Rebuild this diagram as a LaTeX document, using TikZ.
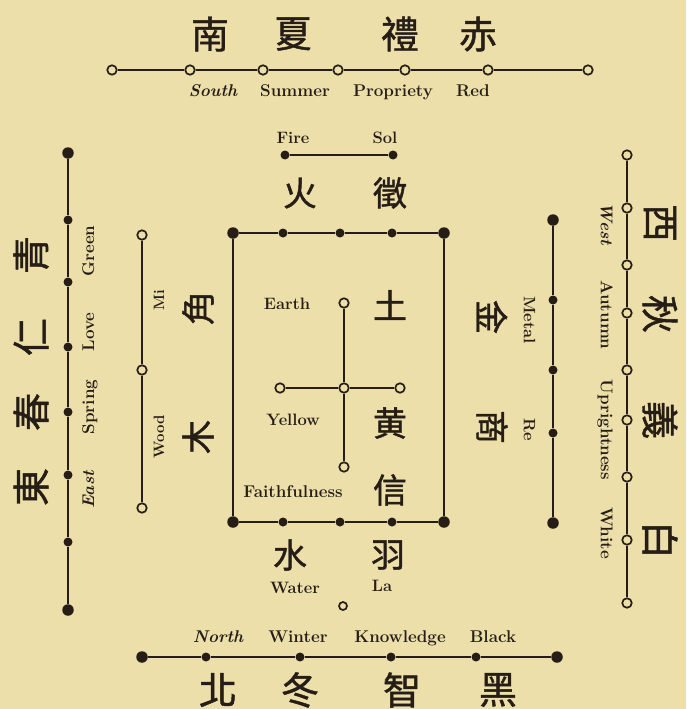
\documentclass[tikz,border=0pt]{standalone}
\usepackage{fontspec}
\newfontfamily\cjk{Noto Sans CJK TC}[FakeBold=1.2]
\definecolor{ink}{RGB}{38,30,22}
\definecolor{paper}{RGB}{236,223,170}
\tikzset{
 fd/.style={circle,fill=ink,inner sep=0pt,minimum size=9pt},
 bd/.style={circle,fill=ink,inner sep=0pt,minimum size=11.5pt},
 od/.style={circle,draw=ink,fill=paper,line width=1.7pt,inner sep=0pt,minimum size=9.5pt},
 ln/.style={draw=ink,line width=2.2pt},
 hz/.style={font=\cjk\fontsize{38}{38}\selectfont,text=ink,inner sep=0pt},
 hzs/.style={font=\cjk\fontsize{34}{34}\selectfont,text=ink,inner sep=0pt},
 lb/.style={font=\fontsize{17}{17}\selectfont\bfseries,text=ink,inner sep=0pt,anchor=base},
 lbi/.style={font=\fontsize{17}{17}\selectfont\bfseries\itshape,text=ink,inner sep=0pt,anchor=base},
 lbs/.style={font=\fontsize{16.5}{16.5}\selectfont\bfseries,text=ink,inner sep=0pt,anchor=base},
 lbt/.style={font=\fontsize{15}{15}\selectfont\bfseries,text=ink,inner sep=0pt,anchor=base},
 lft/.style={rotate=90,anchor=mid},
 rgt/.style={rotate=-90,anchor=mid}
}
\begin{document}
\begin{tikzpicture}[x=1pt,y=-1pt]
\fill[paper] (0,0) rectangle (686,709);
\useasboundingbox (0,0) rectangle (686,709);
% ---------- top (South) ----------
\foreach \x [count=\i from 0] in {112,190,263,338,405,488,588} \node[od] (t\i) at (\x,70) {};
\draw[ln] (t0)--(t1)--(t2)--(t3)--(t4)--(t5)--(t6);
\node[hz] (nan) at (210,34) {南};
\node[hz] (xia) at (293,34) {夏};
\node[hz] (li) at (400,34) {禮};
\node[hz] (chi) at (478,34) {赤};
\node[lbi] (south) at (213,96) {South};
\node[lb] (summer) at (295,96) {Summer};
\node[lb] (propriety) at (393,96) {Propriety};
\node[lb] (red) at (473,96) {Red};
% ---------- Fire / Sol ----------
\node[fd] (f0) at (285,155) {};
\node[fd] (f1) at (393,155) {};
\draw[ln] (f0)--(f1);
\node[lbs] (fire) at (293,143) {Fire};
\node[lbs] (sol) at (385,143) {Sol};
\node[hzs] (huo) at (300,193) {火};
\node[hzs] (zhi) at (390,193) {徵};
% ---------- box ----------
\node[bd] (bt0) at (233,233) {};
\node[fd] (bt1) at (283,233) {};
\node[fd] (bt2) at (340,233) {};
\node[fd] (bt3) at (392,233) {};
\node[bd] (bt4) at (444,233) {};
\node[bd] (bb0) at (233,522) {};
\node[fd] (bb1) at (283,522) {};
\node[fd] (bb2) at (340,522) {};
\node[fd] (bb3) at (392,522) {};
\node[bd] (bb4) at (444,522) {};
\draw[ln] (bt0)--(bt1)--(bt2)--(bt3)--(bt4)--(bb4)--(bb3)--(bb2)--(bb1)--(bb0)--(bt0);
% ---------- cross ----------
\node[od] (e1) at (344,303) {};
\node[od] (e2) at (344,467) {};
\node[od] (e3) at (280,388) {};
\node[od] (e4) at (400,388) {};
\node[od] (ec) at (344,388) {};
\draw[ln] (e1)--(ec)--(e2);
\draw[ln] (e3)--(ec)--(e4);
\node[lbs] (earth) at (287,309) {Earth};
\node[hzs] (tu) at (390,305) {土};
\node[lbs] (yellow) at (293,425) {Yellow};
\node[hzs] (huang) at (390,423) {黄};
\node[lb] (faith) at (293,497) {Faithfulness};
\node[hzs] (xin) at (390,490) {信};
% ---------- left outer (East) ----------
\node[bd] (l0) at (68,153) {};
\foreach \y [count=\i] in {220,282,347,412,475,542} \node[fd] (l\i) at (68,\y) {};
\node[bd] (l7) at (68,610) {};
\draw[ln] (l0)--(l1)--(l2)--(l3)--(l4)--(l5)--(l6)--(l7);
\node[hz,rotate=90] (qing) at (31,255) {青};
\node[hz,rotate=90] (ren) at (31,337) {仁};
\node[hz,rotate=90] (chun) at (31,412) {春};
\node[hz,rotate=90] (dong) at (31,487) {東};
\node[lb,lft] (green) at (92,251) {Green};
\node[lb,lft] (love) at (92,332) {Love};
\node[lb,lft] (spring) at (92,407) {Spring};
\node[lbi,lft] (east) at (92,490) {East};
% ---------- left inner (Wood) ----------
\node[od] (w0) at (142,235) {};
\node[od] (w1) at (142,370) {};
\node[od] (w2) at (142,508) {};
\draw[ln] (w0)--(w1)--(w2);
\node[lbt,lft] (mi) at (162,300) {Mi};
\node[hzs,rotate=90] (jiao) at (198,308) {角};
\node[lbt,lft] (wood) at (162,437) {Wood};
\node[hzs,rotate=90] (mu) at (198,437) {木};
% ---------- right inner (Metal) ----------
\node[bd] (m0) at (553,220) {};
\node[fd] (m1) at (553,300) {};
\node[fd] (m2) at (553,370) {};
\node[fd] (m3) at (553,433) {};
\node[bd] (m4) at (553,523) {};
\draw[ln] (m0)--(m1)--(m2)--(m3)--(m4);
\node[lbs,rgt] (metal) at (526,320) {Metal};
\node[lbs,rgt] (re) at (526,430) {Re};
\node[hzs,rotate=-90] (jin) at (492,317) {金};
\node[hzs,rotate=-90] (shang) at (492,427) {商};
% ---------- right outer (West) ----------
\foreach \y [count=\i from 0] in {155,208,265,313,370,420,477,540,603} \node[od] (r\i) at (627,\y) {};
\draw[ln] (r0)--(r1)--(r2)--(r3)--(r4)--(r5)--(r6)--(r7)--(r8);
\node[hz,rotate=-90] (xi) at (660,223) {西};
\node[hz,rotate=-90] (qiu) at (660,314) {秋};
\node[hz,rotate=-90] (yi) at (660,420) {義};
\node[hz,rotate=-90] (bai) at (660,540) {白};
\node[lbi,rgt] (west) at (603,224) {West};
\node[lb,rgt] (autumn) at (603,315) {Autumn};
\node[lb,rgt] (upright) at (603,430) {Uprightness};
\node[lb,rgt] (white) at (603,533) {White};
% ---------- Water / La ----------
\node[hzs] (shui) at (290,555) {水};
\node[hzs] (yu) at (388,555) {羽};
\node[lbs] (water) at (295,593) {Water};
\node[lbs] (la) at (382,591) {La};
\node[od,minimum size=8pt] (wc) at (343,606) {};
% ---------- bottom (North) ----------
\node[bd] (n0) at (142,657) {};
\foreach \x [count=\i] in {206,300,391,476} \node[fd] (n\i) at (\x,657) {};
\node[bd] (n5) at (557,657) {};
\draw[ln] (n0)--(n1)--(n2)--(n3)--(n4)--(n5);
\node[lbi] (north) at (218,642) {North};
\node[lb] (winter) at (298,642) {Winter};
\node[lb] (knowledge) at (400,642) {Knowledge};
\node[lb] (black) at (493,642) {Black};
\node[hz] (bei) at (218,690) {北};
\node[hz] (dongw) at (300,690) {冬};
\node[hz] (zhiw) at (402,690) {智};
\node[hz] (hei) at (498,690) {黑};
\end{tikzpicture}
\end{document}
